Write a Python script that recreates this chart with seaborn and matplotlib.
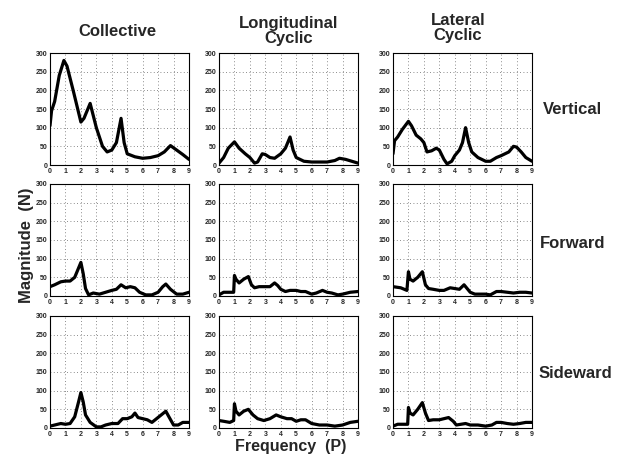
import numpy as np
import pandas as pd
import matplotlib
matplotlib.use("Agg")
import matplotlib.pyplot as plt
import seaborn as sns

# ---- data (frequency P, magnitude N) ----
cv_x = [0, 0.1, 0.3, 0.6, 0.9, 1.1, 1.5, 2.0, 2.2, 2.6, 3.0, 3.4, 3.7, 4.0, 4.3, 4.6, 4.8, 5.0, 5.5, 6.0, 6.5, 7.0, 7.4, 7.8, 8.2, 8.6, 9.0]
cv_y = [105, 145, 170, 240, 280, 265, 200, 115, 125, 165, 100, 50, 35, 40, 60, 125, 60, 30, 22, 18, 20, 25, 35, 52, 40, 28, 15]
lv_x = [0, 0.3, 0.6, 1.0, 1.3, 1.7, 2.0, 2.3, 2.5, 2.8, 3.0, 3.3, 3.6, 4.0, 4.3, 4.6, 4.8, 5.0, 5.5, 6.0, 6.5, 7.0, 7.5, 7.8, 8.2, 8.6, 9.0]
lv_y = [5, 20, 45, 62, 45, 30, 20, 5, 8, 30, 28, 20, 18, 30, 45, 75, 40, 20, 10, 8, 8, 8, 12, 18, 15, 10, 5]
tv_x = [0, 0.1, 0.3, 0.6, 1.0, 1.2, 1.5, 1.8, 2.0, 2.2, 2.5, 2.8, 3.0, 3.3, 3.5, 3.8, 4.0, 4.3, 4.5, 4.7, 4.9, 5.1, 5.5, 6.0, 6.3, 6.7, 7.0, 7.5, 7.8, 8.0, 8.3, 8.6, 9.0]
tv_y = [30, 65, 75, 95, 117, 105, 80, 70, 60, 35, 38, 45, 40, 15, 3, 10, 25, 40, 60, 100, 60, 35, 20, 10, 10, 20, 25, 35, 50, 48, 35, 20, 10]

cf_x = [0, 0.3, 0.7, 1.0, 1.3, 1.6, 1.8, 2.0, 2.15, 2.3, 2.5, 2.8, 3.2, 3.6, 4.0, 4.3, 4.6, 4.9, 5.2, 5.5, 5.8, 6.2, 6.6, 7.0, 7.3, 7.5, 7.8, 8.2, 8.6, 9.0]
cf_y = [25, 30, 38, 40, 40, 50, 70, 90, 60, 20, 3, 8, 5, 10, 15, 18, 30, 22, 25, 22, 10, 3, 3, 10, 25, 32, 18, 5, 5, 10]
lf_x = [0, 0.3, 0.6, 0.95, 1.0, 1.1, 1.3, 1.6, 1.9, 2.1, 2.3, 2.6, 3.0, 3.3, 3.6, 3.8, 4.0, 4.3, 4.6, 5.0, 5.3, 5.6, 6.0, 6.3, 6.7, 7.0, 7.3, 7.7, 8.0, 8.5, 9.0]
lf_y = [3, 10, 10, 10, 55, 45, 35, 45, 52, 30, 22, 25, 25, 25, 35, 28, 18, 12, 15, 15, 12, 12, 5, 8, 15, 10, 8, 3, 5, 10, 12]
tf_x = [0, 0.5, 0.9, 1.0, 1.1, 1.3, 1.6, 1.9, 2.1, 2.3, 2.6, 3.0, 3.3, 3.7, 4.0, 4.3, 4.6, 4.8, 5.0, 5.3, 5.6, 6.0, 6.3, 6.7, 7.0, 7.4, 7.8, 8.2, 8.6, 9.0]
tf_y = [25, 22, 15, 65, 45, 40, 50, 65, 30, 20, 18, 15, 15, 22, 20, 18, 30, 20, 10, 5, 5, 5, 3, 12, 12, 10, 8, 10, 10, 8]

cs_x = [0, 0.3, 0.7, 1.0, 1.3, 1.6, 1.85, 2.0, 2.15, 2.3, 2.6, 3.0, 3.3, 3.6, 4.0, 4.4, 4.7, 5.0, 5.3, 5.5, 5.7, 6.0, 6.3, 6.6, 6.9, 7.2, 7.5, 7.7, 8.0, 8.3, 8.6, 9.0]
cs_y = [5, 8, 12, 10, 12, 30, 70, 95, 70, 35, 15, 3, 3, 8, 12, 12, 25, 25, 30, 40, 28, 25, 22, 15, 25, 35, 45, 30, 8, 8, 15, 15]
ls_x = [0, 0.3, 0.7, 0.95, 1.0, 1.1, 1.3, 1.6, 1.9, 2.2, 2.5, 2.9, 3.3, 3.7, 4.0, 4.4, 4.7, 5.0, 5.3, 5.6, 6.0, 6.5, 7.0, 7.5, 8.0, 8.5, 9.0]
ls_y = [20, 18, 15, 20, 65, 45, 35, 45, 50, 35, 25, 20, 25, 35, 30, 25, 25, 18, 22, 22, 12, 8, 8, 5, 8, 15, 18]
ts_x = [0, 0.3, 0.7, 0.95, 1.0, 1.1, 1.3, 1.6, 1.9, 2.1, 2.3, 2.6, 3.0, 3.3, 3.6, 3.9, 4.1, 4.4, 4.7, 5.0, 5.5, 6.0, 6.4, 6.7, 7.0, 7.4, 7.8, 8.2, 8.6, 9.0]
ts_y = [5, 10, 10, 10, 55, 40, 35, 50, 68, 40, 20, 22, 22, 25, 28, 18, 8, 10, 12, 8, 8, 5, 8, 15, 15, 12, 10, 12, 15, 15]

columns = ["Collective", "Longitudinal\nCyclic", "Lateral\nCyclic"]
rows = ["Vertical", "Forward", "Sideward"]
x_ticks = list(range(0, 10))
y_ticks = [0, 50, 100, 150, 200, 250, 300]

series = [[(cv_x, cv_y), (lv_x, lv_y), (tv_x, tv_y)],
          [(cf_x, cf_y), (lf_x, lf_y), (tf_x, tf_y)],
          [(cs_x, cs_y), (ls_x, ls_y), (ts_x, ts_y)]]

sns.set_style("white")
plt.rcParams['font.family'] = ['Liberation Sans', 'DejaVu Sans']

W, H = 618, 459
fig = plt.figure(figsize=(W / 100, H / 100), dpi=100)

lefts = [50, 219, 393]
tops = [53, 184, 316]
aw, ah = 139, 112

for r in range(3):
    for c in range(3):
        ax = fig.add_axes([lefts[c] / W, 1 - (tops[r] + ah) / H, aw / W, ah / H])
        xs, ys = series[r][c]
        df = pd.DataFrame({"freq": xs, "mag": ys})
        sns.lineplot(data=df, x="freq", y="mag", ax=ax, color="black", linewidth=2.3)
        ax.set_xlim(0, 9)
        ax.set_ylim(0, 300)
        ax.set_xticks(x_ticks)
        ax.set_yticks(y_ticks)
        ax.set_xticklabels([str(t) for t in x_ticks], fontsize=5, fontweight="bold")
        ax.set_yticklabels([str(t) for t in y_ticks], fontsize=5, fontweight="bold")
        ax.tick_params(axis="both", length=0, pad=2)
        ax.grid(True, linestyle=(0, (1, 3)), color="#666666", linewidth=0.6)
        ax.set_xlabel("")
        ax.set_ylabel("")
        for s in ax.spines.values():
            s.set_color("black")
            s.set_linewidth(0.8)

# column titles
fig.text(117 / W, 1 - 32 / H, columns[0], ha="center", va="center", fontsize=12, fontweight="bold")
fig.text(289 / W, 1 - 31 / H, columns[1], ha="center", va="center", fontsize=12, fontweight="bold", linespacing=1.0)
fig.text(458 / W, 1 - 28 / H, columns[2], ha="center", va="center", fontsize=12, fontweight="bold", linespacing=1.0)

# row labels
fig.text(572 / W, 1 - 110 / H, rows[0], ha="center", va="center", fontsize=12, fontweight="bold")
fig.text(573 / W, 1 - 243 / H, rows[1], ha="center", va="center", fontsize=12, fontweight="bold")
fig.text(575 / W, 1 - 374 / H, rows[2], ha="center", va="center", fontsize=12, fontweight="bold")

fig.text(26 / W, 1 - 245 / H, "Magnitude  (N)", ha="center", va="center", rotation=90, fontsize=12, fontweight="bold")
fig.text(291 / W, 1 - 446 / H, "Frequency  (P)", ha="center", va="center", fontsize=11.5, fontweight="bold")

fig.savefig("out.png", dpi=100)
